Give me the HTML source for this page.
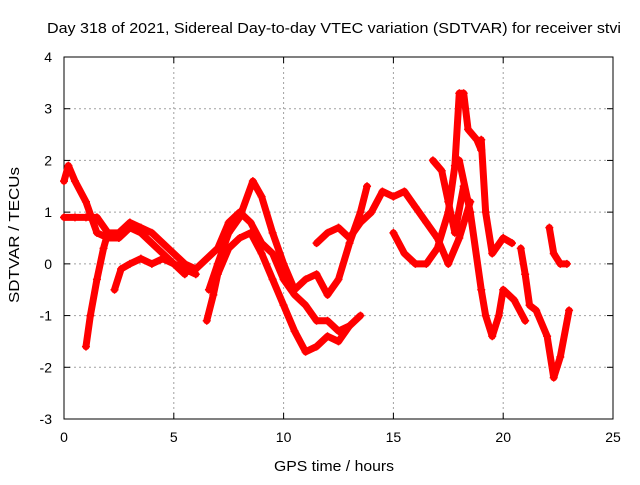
<!DOCTYPE html>
<html><head><meta charset="utf-8"><style>
body{margin:0;background:#fff}
svg{font-family:"Liberation Sans",sans-serif;font-size:14px}
</style></head><body>
<svg width="640" height="480">
<rect width="640" height="480" fill="#fff"/>
<text x="334" y="33" text-anchor="middle" textLength="574" lengthAdjust="spacingAndGlyphs" style="font-size:15px">Day 318 of 2021, Sidereal Day-to-day VTEC variation (SDTVAR) for receiver stvi</text>
<g id="grid"></g>
<g id="axes"></g>
<g id="series"></g>
<text x="334" y="471" text-anchor="middle" textLength="120" lengthAdjust="spacingAndGlyphs" style="font-size:15px">GPS time / hours</text>
<text transform="translate(19,235) rotate(-90)" text-anchor="middle" textLength="136" lengthAdjust="spacingAndGlyphs" style="font-size:15px">SDTVAR / TECUs</text>
</svg>
<script>
const xTicks=[0,5,10,15,20,25];
const yTicks=[-3,-2,-1,0,1,2,3,4];
const track1=[[0,1.6],[0.2,1.9],[0.5,1.6],[1,1.2],[1.5,0.6],[2,0.5],[2.5,0.5],[3,0.7],[3.5,0.6],[4,0.4],[4.5,0.2],[5,0.0],[5.5,-0.1],[6,-0.2]];
const track2=[[0,0.9],[0.5,0.9],[1,0.9],[1.5,0.9],[2,0.6],[2.5,0.6],[3,0.8],[3.5,0.7],[4,0.6],[4.5,0.4],[5,0.2],[5.5,0.0],[6,-0.1],[6.5,0.1],[7,0.3],[7.5,0.8],[8,1.0],[8.5,0.8],[9,0.4],[9.5,0.2],[10,-0.3],[10.5,-0.6],[11,-0.8],[11.5,-1.1],[12,-1.1],[12.5,-1.3],[13,-1.2],[13.5,-1.0]];
const track3=[[1.0,-1.6],[1.2,-1.0],[1.5,-0.3],[1.8,0.3],[2.0,0.6]];
const track4=[[2.3,-0.5],[2.6,-0.1],[3,0.0],[3.5,0.1],[4,0.0],[4.5,0.1],[5,0.0],[5.5,-0.2]];
const track5=[[6.5,-1.1],[6.8,-0.6],[7,-0.2],[7.5,0.3],[8,0.5],[8.5,0.6],[9,0.2],[9.5,-0.3],[10,-0.8],[10.5,-1.3],[11,-1.7],[11.5,-1.6],[12,-1.4],[12.5,-1.5],[13,-1.2]];
const track6=[[6.6,-0.5],[7,0.0],[7.5,0.6],[8,0.9],[8.6,1.6],[9,1.3],[9.5,0.6],[10,0.0],[10.5,-0.5],[11,-0.3],[11.5,-0.2],[12,-0.6],[12.5,-0.3],[13,0.4],[13.5,1.0],[13.8,1.5]];
const track7=[[11.5,0.4],[12,0.6],[12.5,0.7],[13,0.5],[13.5,0.8],[14,1.0],[14.5,1.4],[15,1.3],[15.5,1.4],[16,1.1],[16.5,0.8],[17,0.5],[17.5,0.0],[18,0.5],[18.5,1.2]];
const track8=[[15,0.6],[15.5,0.2],[16,0.0],[16.5,0.0],[17,0.3],[17.5,1.0],[17.8,1.9],[18,3.3],[18.2,3.3],[18.4,2.6],[18.8,2.4],[19,2.2]];
const track9=[[18,2.0],[18.5,1.0],[19,-0.5],[19.2,-1.0],[19.5,-1.4],[19.8,-1.0],[20,-0.5],[20.5,-0.7],[21,-1.1]];
const track10=[[19,2.4],[19.2,1.0],[19.5,0.2],[20,0.5],[20.4,0.4]];
const track11=[[16.8,2.0],[17.2,1.8],[17.5,1.2],[17.8,0.6],[18.2,1.5]];
const track12=[[20.8,0.3],[21,-0.2],[21.2,-0.8],[21.5,-0.9],[22,-1.4],[22.3,-2.2],[22.6,-1.8],[23,-0.9]];
const track13=[[22.1,0.7],[22.3,0.2],[22.6,0.0],[22.9,0.0]];
const tracks=[track1,track2,track3,track4,track5,track6,track7,track8,track9,track10,track11,track12,track13];
const X0=64,X1=613,Y0=419,Y1=57;
function xs(t){return X0+(t-0)/(25-0)*(X1-X0);}
function ys(v){return Y0-(v+3)/(4+3)*(Y0-Y1);}
const NS="http://www.w3.org/2000/svg";
function mk(tag,attrs,parent){const e=document.createElementNS(NS,tag);for(const k in attrs)e.setAttribute(k,attrs[k]);parent.appendChild(e);return e;}
const grid=document.getElementById('grid'),axes=document.getElementById('axes'),ser=document.getElementById('series');
mk('rect',{x:X0,y:Y1,width:X1-X0,height:Y0-Y1,fill:'none',stroke:'#000','stroke-width':1},axes);
xTicks.forEach(t=>{const x=xs(t);
 if(t>0&&t<25){const g=mk('line',{x1:x,x2:x,y1:Y0,y2:Y1,stroke:'#a0a0a0','stroke-dasharray':'2,3'},grid);
 
 }
 mk('line',{x1:x,x2:x,y1:Y0,y2:Y0-6,stroke:'#000'},axes);
 mk('line',{x1:x,x2:x,y1:Y1,y2:Y1+6,stroke:'#000'},axes);
 const l=mk('text',{x:x,y:Y0+23,'text-anchor':'middle'},axes);l.textContent=t;
 
 
});
yTicks.forEach(v=>{const y=ys(v);
 if(v>-3&&v<4){const g=mk('line',{x1:X0,x2:X1,y1:y,y2:y,stroke:'#a0a0a0','stroke-dasharray':'2,3'},grid);
 
 }
 mk('line',{x1:X0,x2:X0+6,y1:y,y2:y,stroke:'#000'},axes);
 mk('line',{x1:X1,x2:X1-6,y1:y,y2:y,stroke:'#000'},axes);
 const l=mk('text',{x:X0-12,y:y+5,'text-anchor':'end'},axes);l.textContent=v;
 
 
});
tracks.forEach((tr,i)=>{
 const p=mk('polyline',{points:tr.map(d=>xs(d[0])+','+ys(d[1])).join(' '),fill:'none',stroke:'#f00','stroke-width':7,'stroke-linejoin':'round','stroke-linecap':'round'},ser);
 
 
 tr.forEach(d=>{const x=xs(d[0]),y=ys(d[1]);
  const m=mk('path',{d:`M${x-4},${y}h8M${x},${y-4}v8`,stroke:'#f00','stroke-width':1.5},ser);
  
  
 });
});
</script>
</body></html>
